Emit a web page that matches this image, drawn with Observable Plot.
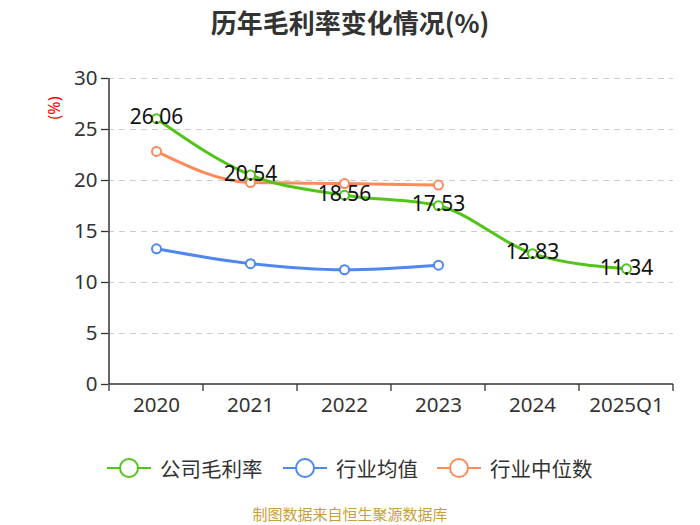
<!DOCTYPE html>
<html><head><meta charset="utf-8">
<script src="https://cdn.jsdelivr.net/npm/d3@7"></script>
<script src="https://cdn.jsdelivr.net/npm/@observablehq/plot@0.6"></script>
<style>
body{margin:0;width:700px;height:525px;position:relative;background:#fff;font-family:"Noto Sans","Noto Sans CJK SC",sans-serif;overflow:hidden}
#title{position:absolute;left:0;top:0;width:700px;text-align:center;font-size:26px;font-weight:bold;color:#333;line-height:44px;font-family:"Noto Sans CJK SC",sans-serif}
#chart{position:absolute;left:0;top:45px}
#legend{position:absolute;left:0;top:452px;width:700px;height:32px}
#caption{position:absolute;left:0;top:505px;width:700px;text-align:center;font-size:15px;color:#c9a03c;font-family:"Noto Sans CJK SC",sans-serif;line-height:18px}
.li{position:absolute;top:0;height:32px;display:flex;align-items:center;font-size:20.5px;color:#333;font-family:"Noto Sans CJK SC",sans-serif}
.yl{position:absolute;left:43px;top:97px;color:red;font-size:16px;transform:rotate(-90deg);transform-origin:center}
</style></head>
<body>
<div id="title">历年毛利率变化情况(%)</div>
<div id="chart"></div>
<div class="yl">(%)</div>
<div id="legend"></div>
<div id="caption">制图数据来自恒生聚源数据库</div>
<script>
const periods = ["2020","2021","2022","2023","2024","2025Q1"];
const companyMargin = [26.06, 20.54, 18.56, 17.53, 12.83, 11.34];
const industryPeriods = ["2020","2021","2022","2023"];
const industryMean = [13.3, 11.85, 11.25, 11.7];
const industryMedian = [22.85, 19.8, 19.7, 19.55];
const yTicks = [0,5,10,15,20,25,30];
const seriesNames = ["公司毛利率","行业均值","行业中位数"];
const colors = ["#52c41a","#4f87ec","#fd8a5c"];

const company = periods.map((p,i)=>({p, v: companyMargin[i]}));
const mean = industryPeriods.map((p,i)=>({p, v: industryMean[i]}));
const median = industryPeriods.map((p,i)=>({p, v: industryMedian[i]}));

const axisLines = (index, scales, values, dims) => {
  const g = d3.create("svg:g");
  const x = scales.x, step = x.step();
  const y0 = scales.y(0), yTop = scales.y(30);
  const xs = periods.map(p => x(p)).concat([x(periods[periods.length-1]) + step]);
  for (const px of xs) {
    g.append("line").attr("x1", px).attr("x2", px).attr("y1", y0).attr("y2", y0 + 7)
      .attr("stroke", "#333").attr("stroke-width", 1.3);
  }
  g.append("line").attr("x1", xs[0]).attr("x2", xs[0]).attr("y1", yTop).attr("y2", y0)
    .attr("stroke", "#333").attr("stroke-width", 1.5);
  g.append("line").attr("x1", xs[0]).attr("x2", xs[xs.length-1]).attr("y1", y0).attr("y2", y0)
    .attr("stroke", "#333").attr("stroke-width", 1.5);
  return g.node();
};

const chart = Plot.plot({
  width: 700,
  height: 385,
  marginLeft: 108,
  marginRight: 27,
  marginTop: 33,
  marginBottom: 46,
  style: {fontFamily: '"Noto Sans","Noto Sans CJK SC",sans-serif', fontSize: "20px", color: "#333", background: "transparent"},
  x: {type: "band", domain: periods, padding: 0, label: null},
  y: {domain: [0, 30], label: null},
  marks: [
    Plot.gridY(yTicks.filter(d=>d>0), {stroke: "#ccc", strokeOpacity: 1, strokeDasharray: "6,5", strokeWidth: 1.2}),
    Plot.axisY(yTicks, {tickSize: 7, tickPadding: 4, fontSize: 20.5, stroke: "#333", strokeWidth: 1.3}),
    Plot.axisX({tickSize: 0, tickPadding: 13, fontSize: 20.5}),
    axisLines,
    Plot.line(mean, {x: "p", y: "v", stroke: colors[1], strokeWidth: 3, curve: "monotone-x"}),
    Plot.line(median, {x: "p", y: "v", stroke: colors[2], strokeWidth: 3, curve: "monotone-x"}),
    Plot.line(company, {x: "p", y: "v", stroke: colors[0], strokeWidth: 3, curve: "monotone-x"}),
    Plot.dot(mean, {x: "p", y: "v", r: 4.5, fill: "white", stroke: colors[1], strokeWidth: 2}),
    Plot.dot(median, {x: "p", y: "v", r: 4.5, fill: "white", stroke: colors[2], strokeWidth: 2}),
    Plot.dot(company, {x: "p", y: "v", r: 4.5, fill: "white", stroke: colors[0], strokeWidth: 2}),
    Plot.text(company, {x: "p", y: "v", text: d => d.v.toFixed(2), fontSize: 21, fill: "#111", dy: -1})
  ]
});
document.getElementById("chart").appendChild(chart);

const legend = document.getElementById("legend");
const lx = [107, 283, 437];
seriesNames.forEach((name, i) => {
  const d = document.createElement("div");
  d.className = "li";
  d.style.left = lx[i] + "px";
  d.innerHTML = `<svg width="44" height="32" style="margin-right:9px"><line x1="0" x2="44" y1="16" y2="16" stroke="${colors[i]}" stroke-width="2"/><circle cx="22" cy="16" r="9" fill="white" stroke="${colors[i]}" stroke-width="2"/></svg>${name}`;
  legend.appendChild(d);
});
</script>
</body></html>
